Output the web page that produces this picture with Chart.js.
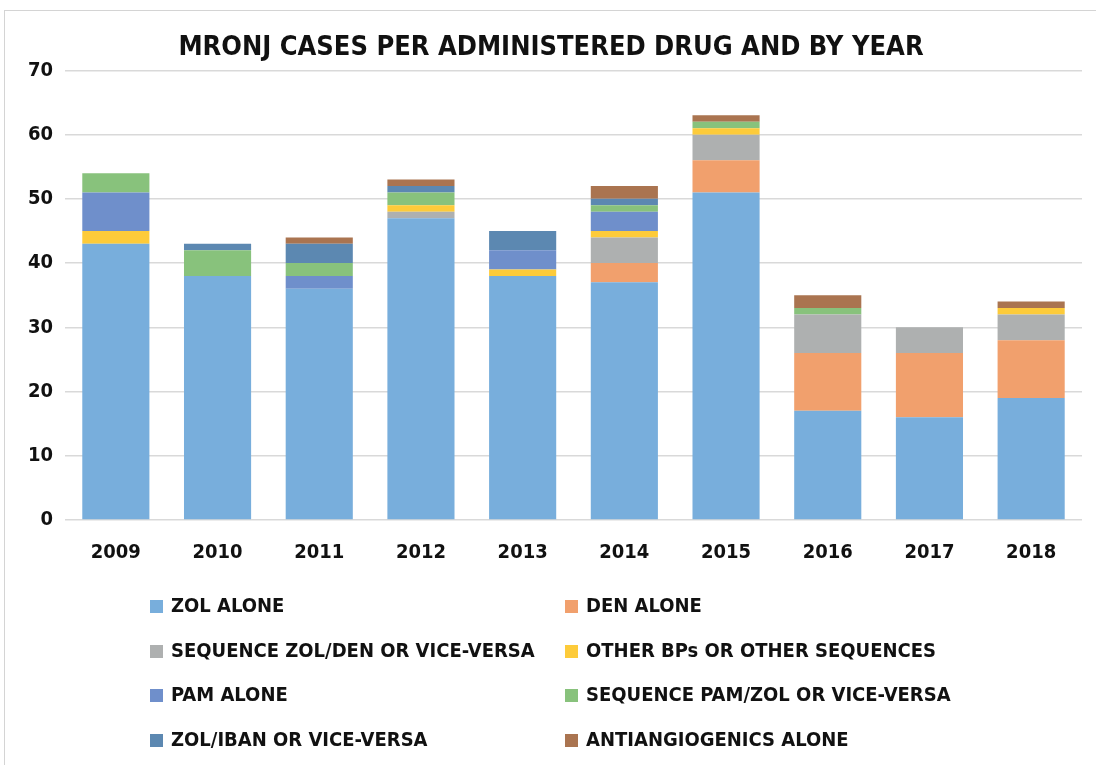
<!DOCTYPE html>
<html>
<head>
<meta charset="utf-8">
<script src="https://cdn.jsdelivr.net/npm/chart.js@4"></script>
<style>
  html, body { margin: 0; padding: 0; background: #fff; }
  #wrap { position: relative; width: 1096px; height: 765px; }
  #frame { position: absolute; left: 4px; top: 10px; right: 0; bottom: 0; border-left: 1px solid #d4d4d4; border-top: 1px solid #d4d4d4; }
  #chart { position: absolute; left: 0; top: 0; }
  #legend { position: absolute; left: 150px; top: 592px; width: 900px;
    font-family: 'Liberation Sans Narrow', 'DejaVu Sans Condensed', sans-serif; font-weight: bold; font-size: 20px; color: #111; }
  .item { position: absolute; white-space: nowrap; line-height: 26px; }
  .box { display: inline-block; width: 13px; height: 13px; margin-right: 8px; vertical-align: -1px; }
</style>
</head>
<body>
<div id="wrap">
  <div id="frame"></div>
  <canvas id="chart" width="1096" height="765"></canvas>
  <div id="legend"></div>
</div>
<script>
const years = ['2009', '2010', '2011', '2012', '2013', '2014', '2015', '2016', '2017', '2018'];
const yTicks = [0, 10, 20, 30, 40, 50, 60, 70];

const zolAlone     = [43, 38, 36, 47, 38, 37, 51, 17, 16, 19];
const denAlone     = [0, 0, 0, 0, 0, 3, 5, 9, 10, 9];
const seqZolDen    = [0, 0, 0, 1, 0, 4, 4, 6, 4, 4];
const otherBps     = [2, 0, 0, 1, 1, 1, 1, 0, 0, 1];
const pamAlone     = [6, 0, 2, 0, 3, 3, 0, 0, 0, 0];
const seqPamZol    = [3, 4, 2, 2, 0, 1, 1, 1, 0, 0];
const zolIban      = [0, 1, 3, 1, 3, 1, 0, 0, 0, 0];
const antiangio    = [0, 0, 1, 1, 0, 2, 1, 2, 0, 1];

const seriesNames = ['ZOL ALONE', 'DEN ALONE', 'SEQUENCE ZOL/DEN OR VICE-VERSA', 'OTHER BPs OR OTHER SEQUENCES',
  'PAM ALONE', 'SEQUENCE PAM/ZOL OR VICE-VERSA', 'ZOL/IBAN OR VICE-VERSA', 'ANTIANGIOGENICS ALONE'];
const seriesData = [zolAlone, denAlone, seqZolDen, otherBps, pamAlone, seqPamZol, zolIban, antiangio];
const seriesColors = ['#78AEDC', '#F1A06D', '#AEB0B0', '#FDCB3A', '#6F8FCB', '#88C27C', '#5C88B1', '#AA7450'];

const font = "'Liberation Sans Narrow', 'DejaVu Sans Condensed', sans-serif";

const datasets = seriesNames.map((name, i) => ({
  label: name,
  data: seriesData[i],
  backgroundColor: seriesColors[i],
  borderWidth: 0,
  barPercentage: 0.66,
  categoryPercentage: 1,
}));

new Chart(document.getElementById('chart'), {
  type: 'bar',
  data: { labels: years, datasets },
  options: {
    responsive: false,
    animation: false,
    layout: { padding: { left: 20, right: 14, top: 18, bottom: 187 } },
    plugins: {
      legend: { display: false },
      tooltip: { enabled: false },
      title: {
        display: true,
        text: 'MRONJ CASES PER ADMINISTERED DRUG AND BY YEAR',
        color: '#111',
        font: { family: font, size: 27, weight: 'bold' },
        padding: { top: 14, bottom: 6 },
      },
    },
    scales: {
      x: {
        stacked: true,
        grid: { display: false },
        border: { display: false },
        ticks: { color: '#111', font: { family: font, size: 20, weight: 'bold' }, padding: 13 },
      },
      y: {
        stacked: true,
        min: 0, max: 70,
        afterBuildTicks: s => { s.ticks = yTicks.map(v => ({ value: v })); },
        afterFit: s => { s.width = 45; },
        grid: { color: '#d9d9d9', lineWidth: 1.5, drawTicks: false },
        border: { display: false },
        ticks: { color: '#111', font: { family: font, size: 20, weight: 'bold' }, padding: 12 },
      },
    },
  },
});

const legend = document.getElementById('legend');
seriesNames.forEach((name, i) => {
  const el = document.createElement('div');
  el.className = 'item';
  el.style.left = (i % 2 === 0 ? 0 : 415) + 'px';
  el.style.top = (Math.floor(i / 2) * 44.5) + 'px';
  el.innerHTML = '<span class="box" style="background:' + seriesColors[i] + '"></span>' + name;
  legend.appendChild(el);
});
</script>
</body>
</html>
